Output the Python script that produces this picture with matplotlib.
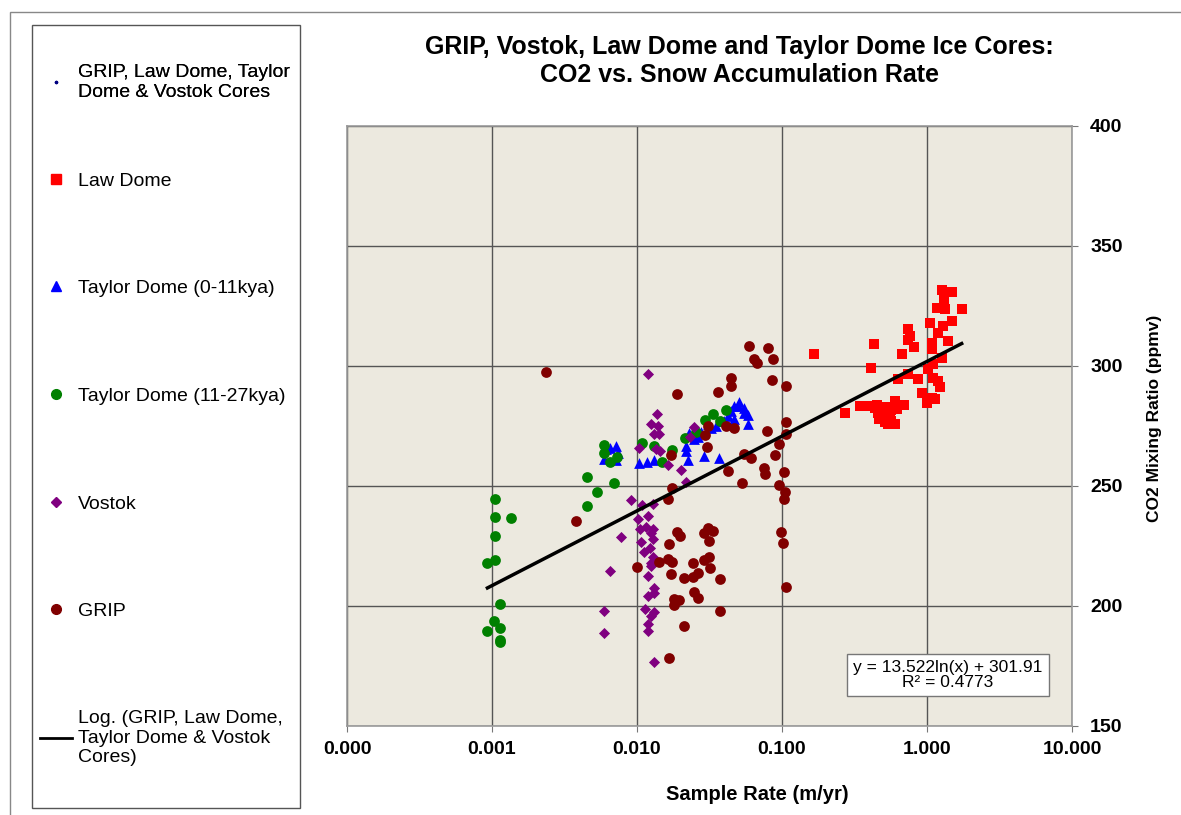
import numpy as np
import matplotlib
matplotlib.use("Agg")
import matplotlib.pyplot as plt
from matplotlib.lines import Line2D
from matplotlib.patches import Rectangle
from matplotlib.ticker import FixedLocator, FormatStrFormatter, NullLocator

plt.rcParams['font.family'] = ['Liberation Sans', 'DejaVu Sans']

# Law Dome (m/yr, ppmv)
law_x = [0.166, 0.428, 0.410, 0.271, 0.675, 0.743, 0.762, 0.734, 0.817, 1.047,
         1.262, 1.479, 1.318, 1.165, 1.330, 1.734, 1.479, 1.296, 1.197, 1.403,
         1.076, 1.076, 1.262, 1.105, 1.021, 1.105, 1.197, 1.228, 0.918, 1.076,
         1.135, 0.994, 0.634, 0.743, 0.871, 0.600, 0.697, 0.344, 0.383, 0.437,
         0.486, 0.540, 0.499, 0.540, 0.569, 0.600, 0.461, 0.569, 0.400, 0.450,
         0.520, 0.470, 0.560, 0.620, 0.510]
law_y = [304.9, 309.3, 299.0, 280.3, 305.1, 315.3, 312.5, 310.7, 307.9, 318.0,
         331.5, 330.8, 327.8, 324.3, 323.6, 323.6, 318.8, 316.7, 313.9, 310.4,
         309.7, 307.0, 303.5, 300.7, 298.6, 295.1, 293.8, 291.3, 288.9, 286.8,
         286.1, 284.7, 294.4, 296.5, 294.4, 285.4, 283.8, 283.3, 283.3, 282.6,
         281.9, 280.5, 278.5, 275.7, 277.1, 275.7, 280.3, 281.7, 283.5, 283.8,
         283.0, 278.0, 278.0, 282.0, 276.5]

# Taylor Dome 0-11kya
tay1_x = [0.00591, 0.00611, 0.0065, 0.00716, 0.0074, 0.0072, 0.01032, 0.01172,
          0.0131, 0.0218, 0.0225, 0.0229, 0.0248, 0.0264, 0.0290, 0.0325, 0.0351,
          0.0369, 0.0381, 0.0399, 0.0426, 0.0446, 0.0468, 0.0468, 0.0499, 0.0507,
          0.0549, 0.0549, 0.0585, 0.0585, 0.0218, 0.0275, 0.031]
tay1_y = [261.3, 265.4, 265.8, 266.7, 263.8, 261.0, 259.6, 260.0,
          260.8, 266.7, 260.8, 272.1, 269.6, 270.4, 262.5, 274.2, 275.0,
          261.7, 277.1, 277.1, 279.2, 281.3, 277.9, 283.3, 283.3, 285.0,
          282.5, 280.5, 279.6, 275.8, 264.5, 272.5, 276.0]

# Taylor Dome 11-27kya
tay2_x = [0.00105, 0.00105, 0.00135, 0.00105, 0.00105, 0.00093, 0.00113, 0.00103,
          0.00093, 0.00113, 0.00113, 0.00113, 0.00589, 0.00589, 0.00656, 0.00727,
          0.00451, 0.0053, 0.00451, 0.0069, 0.01083, 0.0130, 0.01476, 0.0173,
          0.0213, 0.0256, 0.0295, 0.0333, 0.0412, 0.0373]
tay2_y = [244.6, 237.2, 236.8, 229.2, 219.3, 218.1, 201.0, 193.6,
          189.6, 190.7, 185.8, 185.1, 267.1, 263.8, 260.0, 262.1,
          253.8, 247.5, 241.7, 251.3, 268.0, 266.7, 260.0, 265.0,
          270.0, 272.5, 277.3, 280.1, 281.5, 276.9]

# Vostok
vos_x = [0.01186, 0.01375, 0.0125, 0.01397, 0.01317, 0.0142, 0.01037, 0.01353,
         0.01442, 0.01637, 0.0200, 0.0218, 0.0249, 0.02306, 0.00909, 0.01083,
         0.01284, 0.01186, 0.01011, 0.01049, 0.01154, 0.01284, 0.0125, 0.00781,
         0.01284, 0.01066, 0.0123, 0.01118, 0.01284, 0.0125, 0.0125, 0.00654,
         0.01186, 0.01317, 0.01186, 0.01317, 0.01136, 0.0130, 0.0125, 0.00594,
         0.01186, 0.01186, 0.00594, 0.01317]
vos_y = [296.5, 280.0, 275.7, 275.0, 271.5, 271.5, 265.8, 265.4,
         264.6, 258.6, 256.5, 251.8, 274.7, 270.3, 244.2, 241.9,
         242.7, 237.5, 236.3, 232.2, 232.9, 232.2, 230.5, 228.8,
         228.0, 226.7, 224.0, 222.5, 220.4, 217.9, 216.7, 214.6,
         212.3, 207.6, 204.2, 205.5, 198.8, 197.5, 195.8, 197.9,
         192.7, 189.6, 188.9, 176.5]

# GRIP
grip_x = [0.00235, 0.0592, 0.080, 0.0637, 0.0675, 0.0867, 0.0446, 0.0446, 0.0361,
          0.0189, 0.0853, 0.1071, 0.1059, 0.1071, 0.0791, 0.0947, 0.0412, 0.047,
          0.0308, 0.0295, 0.0305, 0.01718, 0.0551, 0.0607, 0.0889, 0.0751, 0.0758,
          0.0427, 0.1026, 0.0534, 0.0953, 0.1042, 0.1026, 0.01738, 0.01645, 0.00379,
          0.0189, 0.0199, 0.01672, 0.0308, 0.0334, 0.0292, 0.0316, 0.0989, 0.1016,
          0.00995, 0.01426, 0.0163, 0.01745, 0.01718, 0.0245, 0.0292, 0.0316, 0.0318,
          0.0212, 0.0243, 0.0263, 0.0371, 0.0249, 0.0263, 0.0181, 0.0181, 0.0196,
          0.1071, 0.0376, 0.021, 0.01672]
grip_y = [297.5, 308.3, 307.6, 302.8, 301.4, 302.8, 295.1, 291.7, 289.2,
          288.2, 294.2, 291.7, 276.8, 271.5, 272.9, 267.4, 275.0, 274.3,
          275.0, 271.1, 266.3, 262.8, 263.2, 261.8, 262.8, 257.6, 255.1,
          256.3, 256.0, 251.4, 250.3, 247.5, 244.7, 249.3, 244.5, 235.4,
          231.0, 229.2, 225.7, 232.6, 231.3, 230.6, 227.1, 230.7, 226.4,
          216.1, 218.5, 219.5, 218.2, 213.2, 218.0, 219.2, 220.5, 216.0,
          211.5, 212.2, 213.6, 211.1, 206.0, 203.2, 202.8, 200.4, 202.5,
          208.0, 197.9, 191.7, 178.2]

# log trendline of all cores: y = a ln(x) + b
trend_a = 13.522
trend_b = 301.91
r2 = 0.4773

x_ticks = [0.0001, 0.001, 0.01, 0.1, 1, 10]
y_ticks = [150, 200, 250, 300, 350, 400]

fig = plt.figure(figsize=(11.81, 8.15), dpi=100)
ax = fig.add_axes([347 / 1181, 1 - 726 / 815, 725 / 1181, 600 / 815])
ax.set_facecolor('#ECE9DF')

ax.scatter(law_x, law_y, marker='s', s=48, color='#FF0000', zorder=3, linewidths=0)
ax.scatter(tay1_x, tay1_y, marker='^', s=60, color='#0000FF', zorder=3, linewidths=0)
ax.scatter(tay2_x, tay2_y, marker='o', s=60, color='#008000', zorder=3, linewidths=0)
ax.scatter(vos_x, vos_y, marker='D', s=32, color='#800080', zorder=3, linewidths=0)
ax.scatter(grip_x, grip_y, marker='o', s=60, color='#800000', zorder=3, linewidths=0)

all_x = np.array(law_x + tay1_x + tay2_x + vos_x + grip_x)
tx = np.logspace(np.log10(all_x.min()), np.log10(all_x.max()), 100)
ax.plot(tx, trend_a * np.log(tx) + trend_b, color='black', lw=2.5, zorder=4)

ax.set_xscale('log')
ax.set_xlim(x_ticks[0], x_ticks[-1])
ax.set_ylim(y_ticks[0], y_ticks[-1])
ax.xaxis.set_major_locator(FixedLocator(x_ticks))
ax.xaxis.set_minor_locator(NullLocator())
ax.xaxis.set_major_formatter(FormatStrFormatter('%.3f'))
ax.set_yticks(y_ticks)
ax.yaxis.tick_right()
ax.grid(True, color='#555555', lw=1)
ax.set_axisbelow(True)
for s in ax.spines.values():
    s.set_color('#999999')
    s.set_linewidth(1.2)
ax.tick_params(axis='both', labelsize=14, length=4, color='#777777')
ax.tick_params(axis='x', pad=7)
ax.tick_params(axis='y', pad=9)
for lab in ax.get_xticklabels() + ax.get_yticklabels():
    lab.set_fontweight('bold')

ax.text(0.829, 0.085, "y = 13.522ln(x) + 301.91\nR² = %.4f" % r2, transform=ax.transAxes,
        ha='center', va='center', fontsize=12.5, zorder=5, linespacing=1.05,
        bbox=dict(boxstyle='square,pad=0.35', fc='white', ec='#777777', lw=1))

fig.text(0.626, 1 - 61 / 815, "GRIP, Vostok, Law Dome and Taylor Dome Ice Cores:\nCO2 vs. Snow Accumulation Rate",
         ha='center', va='center', fontsize=18, fontweight='bold', linespacing=1.2)
fig.text(757 / 1181, 1 - 795 / 815, "Sample Rate (m/yr)", ha='center', va='center',
         fontsize=14.5, fontweight='bold')
fig.text(1155 / 1181, 1 - 418 / 815, "CO2 Mixing Ratio (ppmv)", ha='center', va='center',
         fontsize=12.5, fontweight='bold', rotation=90)

# frame round the chart area and round the legend
fig.patches.append(Rectangle((10 / 1181, -0.05), 1.2, 1 - 12 / 815 + 0.05, transform=fig.transFigure,
                             fill=False, ec='#888888', lw=1))
fig.patches.append(Rectangle((32 / 1181, 1 - 808 / 815), 268 / 1181, 783 / 815, transform=fig.transFigure,
                             fill=False, ec='#555555', lw=1))

handles = [
    Line2D([], [], ls='none', marker='.', ms=3, color='#000080'),
    Line2D([], [], ls='none', marker='s', ms=7, color='#FF0000'),
    Line2D([], [], ls='none', marker='^', ms=7, color='#0000FF'),
    Line2D([], [], ls='none', marker='o', ms=7, color='#008000'),
    Line2D([], [], ls='none', marker='D', ms=5, color='#800080'),
    Line2D([], [], ls='none', marker='o', ms=7, color='#800000'),
    Line2D([], [], color='black', lw=2),
]
labels = [
    "GRIP, Law Dome, Taylor\nDome & Vostok Cores",
    "Law Dome",
    "Taylor Dome (0-11kya)",
    "Taylor Dome (11-27kya)",
    "Vostok",
    "GRIP",
    "Log. (GRIP, Law Dome,\nTaylor Dome & Vostok\nCores)",
]
leg_opts = dict(loc='upper left', fontsize=14, frameon=False, labelspacing=4.63,
                handlelength=1.65, handletextpad=0.3, borderpad=0, borderaxespad=0)
leg1 = fig.legend(handles[:1], labels[:1], bbox_to_anchor=(40 / 1181, 1 - 64 / 815), **leg_opts)
fig.legend(handles[1:], labels[1:], bbox_to_anchor=(40 / 1181, 1 - 172 / 815), **leg_opts)
fig.add_artist(leg1)

plt.savefig("out.png", dpi=100)
